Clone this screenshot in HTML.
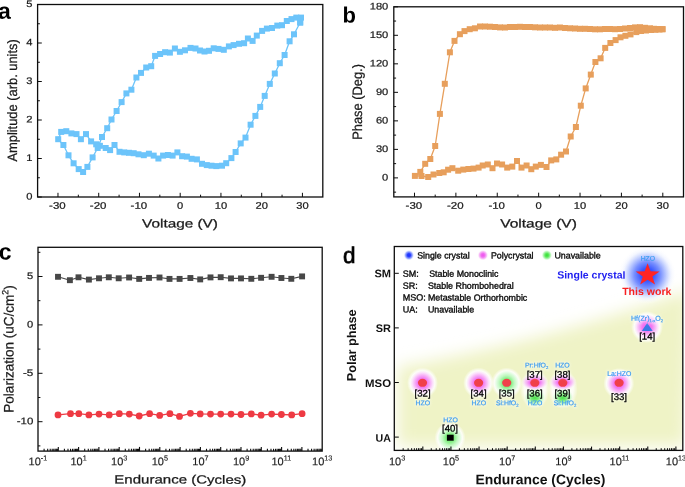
<!DOCTYPE html><html><head><meta charset="utf-8"><style>html,body{margin:0;padding:0;background:#fff;width:685px;height:487px;overflow:hidden}svg{display:block;filter:blur(0.45px)}text{font-family:"Liberation Sans", sans-serif}</style></head><body>
<svg width="685" height="487" viewBox="0 0 685 487">
<defs>
<radialGradient id="gBlue"><stop offset="0" stop-color="#1a2cff"/><stop offset="0.3" stop-color="#2a40ff"/><stop offset="0.65" stop-color="#8fa2ff" stop-opacity="0.85"/><stop offset="1" stop-color="#ffffff" stop-opacity="0"/></radialGradient>
<radialGradient id="gMag"><stop offset="0" stop-color="#f060f0"/><stop offset="0.3" stop-color="#f27af2"/><stop offset="0.5" stop-color="#f7b2f7"/><stop offset="0.66" stop-color="#fce0fc"/><stop offset="0.8" stop-color="#ffffff" stop-opacity="0.85"/><stop offset="1" stop-color="#ffffff" stop-opacity="0"/></radialGradient>
<radialGradient id="gGrn"><stop offset="0" stop-color="#62e862"/><stop offset="0.3" stop-color="#88f088"/><stop offset="0.5" stop-color="#c2f8c2"/><stop offset="0.66" stop-color="#e0fce0"/><stop offset="0.8" stop-color="#ffffff" stop-opacity="0.85"/><stop offset="1" stop-color="#ffffff" stop-opacity="0"/></radialGradient>
<radialGradient id="gMagL"><stop offset="0" stop-color="#ee50ee"/><stop offset="0.35" stop-color="#f070f0"/><stop offset="0.7" stop-color="#f8bff8" stop-opacity="0.9"/><stop offset="1" stop-color="#ffffff" stop-opacity="0"/></radialGradient>
<radialGradient id="gGrnL"><stop offset="0" stop-color="#30e030"/><stop offset="0.35" stop-color="#5ce85c"/><stop offset="0.7" stop-color="#b8f6b8" stop-opacity="0.9"/><stop offset="1" stop-color="#ffffff" stop-opacity="0"/></radialGradient>
<radialGradient id="gStar"><stop offset="0" stop-color="#2440ff"/><stop offset="0.22" stop-color="#3a58ff"/><stop offset="0.45" stop-color="#7890ff"/><stop offset="0.65" stop-color="#bccaff" stop-opacity="0.95"/><stop offset="0.82" stop-color="#eef2ff" stop-opacity="0.75"/><stop offset="1" stop-color="#ffffff" stop-opacity="0"/></radialGradient>
<radialGradient id="gWht"><stop offset="0" stop-color="#ffffff" stop-opacity="0.95"/><stop offset="0.7" stop-color="#ffffff" stop-opacity="0.8"/><stop offset="1" stop-color="#ffffff" stop-opacity="0"/></radialGradient>
<radialGradient id="gGrnS"><stop offset="0" stop-color="#30dc30"/><stop offset="0.35" stop-color="#55e655"/><stop offset="0.7" stop-color="#b0f5b0" stop-opacity="0.8"/><stop offset="1" stop-color="#ffffff" stop-opacity="0"/></radialGradient>
<radialGradient id="gMagS"><stop offset="0" stop-color="#ee50ee"/><stop offset="0.4" stop-color="#f278f2"/><stop offset="0.7" stop-color="#f8c0f8" stop-opacity="0.8"/><stop offset="1" stop-color="#ffffff" stop-opacity="0"/></radialGradient>
<filter id="blurY" x="-20%" y="-30%" width="140%" height="160%"><feGaussianBlur stdDeviation="8"/></filter>
<filter id="halo" x="-30%" y="-50%" width="160%" height="200%"><feGaussianBlur stdDeviation="1"/></filter>
<clipPath id="clipD"><rect x="394.3" y="246.5" width="288.7" height="204.1"/></clipPath>
</defs>
<g>
<polyline fill="none" stroke="#6cc4fa" stroke-width="1.3" stroke-linejoin="round" points="300.2,22.5 294,34.3 289.6,41.3 284.6,55 279.8,63.2 274.8,73.5 269.8,83.9 264.7,95.9 260.2,106.9 255.4,115.9 250.6,124.7 245.5,137.6 240.7,143.4 235.6,152 231.4,158.1 226.2,163.2 222,165.7 216.3,166.1 211.5,165.7 206.8,165.1 202,163.8 196.9,159.4 191.6,158.8 186.9,156.6 182.1,156.2 177.4,152.4 172.6,155.6 167.9,155 163.1,155.6 158.4,158.5 153.7,155.6 148.9,153.7 143.8,155.2 138.5,154.3 133.7,153.2 129,152.8 124.2,152.4 119.5,151.8 114.5,145 110.1,150.1 105.7,148 99.9,145.8 96.2,144.3 91.1,141.4 86,134.1 80.9,139.2 76.5,134.1 71.4,133.4 66.3,131.2 61.2,131.9 58.2,139.2 63.4,145 68.5,155.3 73.6,163.3 78.7,169.1 83.1,172 87.4,166.9 92.6,157.4 97.7,148 102,137 107.2,128.2 111.5,119.5 116.6,111 121.6,102.1 126.4,93.4 131.4,89.7 136.4,77.5 141,72.9 146.2,67.5 151.2,66.2 155.1,55.9 160.1,54 165.1,52.2 169.9,52.6 174.9,48.5 179.9,51.8 185,50.3 190.5,47.9 195.5,48.5 200,50.5 204.5,51.5 209,50.8 213.7,48.3 218.5,48.9 223.8,49.8 228.9,46.4 233.6,45.1 239,43.8 244.1,43.2 247.9,38.5 252.6,40.9 256.8,35.6 262.1,30.9 266.9,28.6 272,28 277.3,25.6 282,25.2 286.8,21 291.5,19.1 296.3,17.6 301,17.6 300.2,22.5"/>
<rect x="297.2" y="19.5" width="6" height="6" fill="#6cc4fa"/>
<rect x="291" y="31.3" width="6" height="6" fill="#6cc4fa"/>
<rect x="286.6" y="38.3" width="6" height="6" fill="#6cc4fa"/>
<rect x="281.6" y="52" width="6" height="6" fill="#6cc4fa"/>
<rect x="276.8" y="60.2" width="6" height="6" fill="#6cc4fa"/>
<rect x="271.8" y="70.5" width="6" height="6" fill="#6cc4fa"/>
<rect x="266.8" y="80.9" width="6" height="6" fill="#6cc4fa"/>
<rect x="261.7" y="92.9" width="6" height="6" fill="#6cc4fa"/>
<rect x="257.2" y="103.9" width="6" height="6" fill="#6cc4fa"/>
<rect x="252.4" y="112.9" width="6" height="6" fill="#6cc4fa"/>
<rect x="247.6" y="121.7" width="6" height="6" fill="#6cc4fa"/>
<rect x="242.5" y="134.6" width="6" height="6" fill="#6cc4fa"/>
<rect x="237.7" y="140.4" width="6" height="6" fill="#6cc4fa"/>
<rect x="232.6" y="149" width="6" height="6" fill="#6cc4fa"/>
<rect x="228.4" y="155.1" width="6" height="6" fill="#6cc4fa"/>
<rect x="223.2" y="160.2" width="6" height="6" fill="#6cc4fa"/>
<rect x="219" y="162.7" width="6" height="6" fill="#6cc4fa"/>
<rect x="213.3" y="163.1" width="6" height="6" fill="#6cc4fa"/>
<rect x="208.5" y="162.7" width="6" height="6" fill="#6cc4fa"/>
<rect x="203.8" y="162.1" width="6" height="6" fill="#6cc4fa"/>
<rect x="199" y="160.8" width="6" height="6" fill="#6cc4fa"/>
<rect x="193.9" y="156.4" width="6" height="6" fill="#6cc4fa"/>
<rect x="188.6" y="155.8" width="6" height="6" fill="#6cc4fa"/>
<rect x="183.9" y="153.6" width="6" height="6" fill="#6cc4fa"/>
<rect x="179.1" y="153.2" width="6" height="6" fill="#6cc4fa"/>
<rect x="174.4" y="149.4" width="6" height="6" fill="#6cc4fa"/>
<rect x="169.6" y="152.6" width="6" height="6" fill="#6cc4fa"/>
<rect x="164.9" y="152" width="6" height="6" fill="#6cc4fa"/>
<rect x="160.1" y="152.6" width="6" height="6" fill="#6cc4fa"/>
<rect x="155.4" y="155.5" width="6" height="6" fill="#6cc4fa"/>
<rect x="150.7" y="152.6" width="6" height="6" fill="#6cc4fa"/>
<rect x="145.9" y="150.7" width="6" height="6" fill="#6cc4fa"/>
<rect x="140.8" y="152.2" width="6" height="6" fill="#6cc4fa"/>
<rect x="135.5" y="151.3" width="6" height="6" fill="#6cc4fa"/>
<rect x="130.7" y="150.2" width="6" height="6" fill="#6cc4fa"/>
<rect x="126" y="149.8" width="6" height="6" fill="#6cc4fa"/>
<rect x="121.2" y="149.4" width="6" height="6" fill="#6cc4fa"/>
<rect x="116.5" y="148.8" width="6" height="6" fill="#6cc4fa"/>
<rect x="111.5" y="142" width="6" height="6" fill="#6cc4fa"/>
<rect x="107.1" y="147.1" width="6" height="6" fill="#6cc4fa"/>
<rect x="102.7" y="145" width="6" height="6" fill="#6cc4fa"/>
<rect x="96.9" y="142.8" width="6" height="6" fill="#6cc4fa"/>
<rect x="93.2" y="141.3" width="6" height="6" fill="#6cc4fa"/>
<rect x="88.1" y="138.4" width="6" height="6" fill="#6cc4fa"/>
<rect x="83" y="131.1" width="6" height="6" fill="#6cc4fa"/>
<rect x="77.9" y="136.2" width="6" height="6" fill="#6cc4fa"/>
<rect x="73.5" y="131.1" width="6" height="6" fill="#6cc4fa"/>
<rect x="68.4" y="130.4" width="6" height="6" fill="#6cc4fa"/>
<rect x="63.3" y="128.2" width="6" height="6" fill="#6cc4fa"/>
<rect x="58.2" y="128.9" width="6" height="6" fill="#6cc4fa"/>
<rect x="55.2" y="136.2" width="6" height="6" fill="#6cc4fa"/>
<rect x="60.4" y="142" width="6" height="6" fill="#6cc4fa"/>
<rect x="65.5" y="152.3" width="6" height="6" fill="#6cc4fa"/>
<rect x="70.6" y="160.3" width="6" height="6" fill="#6cc4fa"/>
<rect x="75.7" y="166.1" width="6" height="6" fill="#6cc4fa"/>
<rect x="80.1" y="169" width="6" height="6" fill="#6cc4fa"/>
<rect x="84.4" y="163.9" width="6" height="6" fill="#6cc4fa"/>
<rect x="89.6" y="154.4" width="6" height="6" fill="#6cc4fa"/>
<rect x="94.7" y="145" width="6" height="6" fill="#6cc4fa"/>
<rect x="99" y="134" width="6" height="6" fill="#6cc4fa"/>
<rect x="104.2" y="125.2" width="6" height="6" fill="#6cc4fa"/>
<rect x="108.5" y="116.5" width="6" height="6" fill="#6cc4fa"/>
<rect x="113.6" y="108" width="6" height="6" fill="#6cc4fa"/>
<rect x="118.6" y="99.1" width="6" height="6" fill="#6cc4fa"/>
<rect x="123.4" y="90.4" width="6" height="6" fill="#6cc4fa"/>
<rect x="128.4" y="86.7" width="6" height="6" fill="#6cc4fa"/>
<rect x="133.4" y="74.5" width="6" height="6" fill="#6cc4fa"/>
<rect x="138" y="69.9" width="6" height="6" fill="#6cc4fa"/>
<rect x="143.2" y="64.5" width="6" height="6" fill="#6cc4fa"/>
<rect x="148.2" y="63.2" width="6" height="6" fill="#6cc4fa"/>
<rect x="152.1" y="52.9" width="6" height="6" fill="#6cc4fa"/>
<rect x="157.1" y="51" width="6" height="6" fill="#6cc4fa"/>
<rect x="162.1" y="49.2" width="6" height="6" fill="#6cc4fa"/>
<rect x="166.9" y="49.6" width="6" height="6" fill="#6cc4fa"/>
<rect x="171.9" y="45.5" width="6" height="6" fill="#6cc4fa"/>
<rect x="176.9" y="48.8" width="6" height="6" fill="#6cc4fa"/>
<rect x="182" y="47.3" width="6" height="6" fill="#6cc4fa"/>
<rect x="187.5" y="44.9" width="6" height="6" fill="#6cc4fa"/>
<rect x="192.5" y="45.5" width="6" height="6" fill="#6cc4fa"/>
<rect x="197" y="47.5" width="6" height="6" fill="#6cc4fa"/>
<rect x="201.5" y="48.5" width="6" height="6" fill="#6cc4fa"/>
<rect x="206" y="47.8" width="6" height="6" fill="#6cc4fa"/>
<rect x="210.7" y="45.3" width="6" height="6" fill="#6cc4fa"/>
<rect x="215.5" y="45.9" width="6" height="6" fill="#6cc4fa"/>
<rect x="220.8" y="46.8" width="6" height="6" fill="#6cc4fa"/>
<rect x="225.9" y="43.4" width="6" height="6" fill="#6cc4fa"/>
<rect x="230.6" y="42.1" width="6" height="6" fill="#6cc4fa"/>
<rect x="236" y="40.8" width="6" height="6" fill="#6cc4fa"/>
<rect x="241.1" y="40.2" width="6" height="6" fill="#6cc4fa"/>
<rect x="244.9" y="35.5" width="6" height="6" fill="#6cc4fa"/>
<rect x="249.6" y="37.9" width="6" height="6" fill="#6cc4fa"/>
<rect x="253.8" y="32.6" width="6" height="6" fill="#6cc4fa"/>
<rect x="259.1" y="27.9" width="6" height="6" fill="#6cc4fa"/>
<rect x="263.9" y="25.6" width="6" height="6" fill="#6cc4fa"/>
<rect x="269" y="25" width="6" height="6" fill="#6cc4fa"/>
<rect x="274.3" y="22.6" width="6" height="6" fill="#6cc4fa"/>
<rect x="279" y="22.2" width="6" height="6" fill="#6cc4fa"/>
<rect x="283.8" y="18" width="6" height="6" fill="#6cc4fa"/>
<rect x="288.5" y="16.1" width="6" height="6" fill="#6cc4fa"/>
<rect x="293.3" y="14.6" width="6" height="6" fill="#6cc4fa"/>
<rect x="298" y="14.6" width="6" height="6" fill="#6cc4fa"/>
<rect x="297.2" y="19.5" width="6" height="6" fill="#6cc4fa"/>
<rect x="37.6" y="4.5" width="285.2" height="192.5" fill="none" stroke="#0d0d0d" stroke-width="1.3"/>
<line x1="57.97" y1="197" x2="57.97" y2="192.8" stroke="#0d0d0d" stroke-width="1"/>
<text transform="translate(57.37,208.8) rotate(0.05) scale(1.2090,1)" font-size="9.5" text-anchor="middle" font-weight="normal" fill="#1a1a1a"  stroke="#1a1a1a" stroke-width="0.22">-30</text>
<line x1="98.71" y1="197" x2="98.71" y2="192.8" stroke="#0d0d0d" stroke-width="1"/>
<text transform="translate(98.11,208.8) rotate(0.05) scale(1.2090,1)" font-size="9.5" text-anchor="middle" font-weight="normal" fill="#1a1a1a"  stroke="#1a1a1a" stroke-width="0.22">-20</text>
<line x1="139.46" y1="197" x2="139.46" y2="192.8" stroke="#0d0d0d" stroke-width="1"/>
<text transform="translate(138.86,208.8) rotate(0.05) scale(1.2090,1)" font-size="9.5" text-anchor="middle" font-weight="normal" fill="#1a1a1a"  stroke="#1a1a1a" stroke-width="0.22">-10</text>
<line x1="180.2" y1="197" x2="180.2" y2="192.8" stroke="#0d0d0d" stroke-width="1"/>
<text transform="translate(180.2,208.8) rotate(0.05) scale(1.1735,1)" font-size="9.5" text-anchor="middle" font-weight="normal" fill="#1a1a1a"  stroke="#1a1a1a" stroke-width="0.22">0</text>
<line x1="220.94" y1="197" x2="220.94" y2="192.8" stroke="#0d0d0d" stroke-width="1"/>
<text transform="translate(220.94,208.8) rotate(0.05) scale(1.1735,1)" font-size="9.5" text-anchor="middle" font-weight="normal" fill="#1a1a1a"  stroke="#1a1a1a" stroke-width="0.22">10</text>
<line x1="261.69" y1="197" x2="261.69" y2="192.8" stroke="#0d0d0d" stroke-width="1"/>
<text transform="translate(261.69,208.8) rotate(0.05) scale(1.1735,1)" font-size="9.5" text-anchor="middle" font-weight="normal" fill="#1a1a1a"  stroke="#1a1a1a" stroke-width="0.22">20</text>
<line x1="302.43" y1="197" x2="302.43" y2="192.8" stroke="#0d0d0d" stroke-width="1"/>
<text transform="translate(302.43,208.8) rotate(0.05) scale(1.1735,1)" font-size="9.5" text-anchor="middle" font-weight="normal" fill="#1a1a1a"  stroke="#1a1a1a" stroke-width="0.22">30</text>
<line x1="78.34" y1="197" x2="78.34" y2="194.7" stroke="#0d0d0d" stroke-width="1"/>
<line x1="119.09" y1="197" x2="119.09" y2="194.7" stroke="#0d0d0d" stroke-width="1"/>
<line x1="159.83" y1="197" x2="159.83" y2="194.7" stroke="#0d0d0d" stroke-width="1"/>
<line x1="200.57" y1="197" x2="200.57" y2="194.7" stroke="#0d0d0d" stroke-width="1"/>
<line x1="241.31" y1="197" x2="241.31" y2="194.7" stroke="#0d0d0d" stroke-width="1"/>
<line x1="282.06" y1="197" x2="282.06" y2="194.7" stroke="#0d0d0d" stroke-width="1"/>
<line x1="37.6" y1="197" x2="41.8" y2="197" stroke="#0d0d0d" stroke-width="1"/>
<text transform="translate(32.4,199.6) rotate(0.05) scale(1.1735,1)" font-size="9.5" text-anchor="end" font-weight="normal" fill="#1a1a1a"  stroke="#1a1a1a" stroke-width="0.22">0</text>
<line x1="37.6" y1="158.5" x2="41.8" y2="158.5" stroke="#0d0d0d" stroke-width="1"/>
<text transform="translate(32.4,161.1) rotate(0.05) scale(1.1735,1)" font-size="9.5" text-anchor="end" font-weight="normal" fill="#1a1a1a"  stroke="#1a1a1a" stroke-width="0.22">1</text>
<line x1="37.6" y1="120" x2="41.8" y2="120" stroke="#0d0d0d" stroke-width="1"/>
<text transform="translate(32.4,122.6) rotate(0.05) scale(1.1735,1)" font-size="9.5" text-anchor="end" font-weight="normal" fill="#1a1a1a"  stroke="#1a1a1a" stroke-width="0.22">2</text>
<line x1="37.6" y1="81.5" x2="41.8" y2="81.5" stroke="#0d0d0d" stroke-width="1"/>
<text transform="translate(32.4,84.1) rotate(0.05) scale(1.1735,1)" font-size="9.5" text-anchor="end" font-weight="normal" fill="#1a1a1a"  stroke="#1a1a1a" stroke-width="0.22">3</text>
<line x1="37.6" y1="43" x2="41.8" y2="43" stroke="#0d0d0d" stroke-width="1"/>
<text transform="translate(32.4,45.6) rotate(0.05) scale(1.1735,1)" font-size="9.5" text-anchor="end" font-weight="normal" fill="#1a1a1a"  stroke="#1a1a1a" stroke-width="0.22">4</text>
<line x1="37.6" y1="4.5" x2="41.8" y2="4.5" stroke="#0d0d0d" stroke-width="1"/>
<text transform="translate(32.4,7.1) rotate(0.05) scale(1.1735,1)" font-size="9.5" text-anchor="end" font-weight="normal" fill="#1a1a1a"  stroke="#1a1a1a" stroke-width="0.22">5</text>
<line x1="37.6" y1="177.75" x2="39.9" y2="177.75" stroke="#0d0d0d" stroke-width="1"/>
<line x1="37.6" y1="139.25" x2="39.9" y2="139.25" stroke="#0d0d0d" stroke-width="1"/>
<line x1="37.6" y1="100.75" x2="39.9" y2="100.75" stroke="#0d0d0d" stroke-width="1"/>
<line x1="37.6" y1="62.25" x2="39.9" y2="62.25" stroke="#0d0d0d" stroke-width="1"/>
<line x1="37.6" y1="23.75" x2="39.9" y2="23.75" stroke="#0d0d0d" stroke-width="1"/>
<text transform="translate(180,227.6) rotate(0.05) scale(1.2802,1)" font-size="12" text-anchor="middle" font-weight="normal" fill="#1a1a1a"  stroke="#1a1a1a" stroke-width="0.25">Voltage (V)</text>
<text transform="translate(17,100.4) rotate(-89.95) scale(0.9477,1)" font-size="13.6" text-anchor="middle" font-weight="normal" fill="#1a1a1a"  stroke="#1a1a1a" stroke-width="0.25">Amplitude (arb. units)</text>
<text transform="translate(-1.9,18.8) rotate(0.05)" font-size="23" text-anchor="start" font-weight="bold" fill="#000" >a</text>
</g>
<g>
<polyline fill="none" stroke="#e79f5c" stroke-width="1.3" stroke-linejoin="round" points="662.5,29.2 658,29 654,28.8 650,28.3 645,27.8 640,27.2 635,27.4 630,28 625,28.5 620,29 615,29.2 610,29 605,29 600,29.3 595,29.3 590,29 585,28.8 580,28.8 575,28.5 570,28.3 565,28 560,27.5 555,27.8 550,27.5 545,27.5 540,27.5 535,27.3 530,27 525,27 520,26.8 515,27 510,27 505,27.5 500,27.4 495,27 490,26.7 485,26.5 480,26.5 474.9,28.3 469.7,29.2 464.5,31.1 459.9,34.2 454.5,40.9 449.9,52.3 444.8,83.8 439.9,113.9 435.2,146 430.3,159 425.2,163.8 420.3,171.9 414.9,175.9 421.5,176 428.2,177 433.5,174.5 439.3,173 443.7,172.3 448.1,169.7 452.4,168.2 458.2,170.7 463.3,169.6 468.4,169 473.5,168.6 478.6,167.6 482.7,165.5 487.8,164.5 492.5,168.2 497,163.5 502.1,164.5 507.2,167.6 512.3,166.6 517,161 521.5,167.6 526.6,165.5 531.3,169.2 535.8,166.6 540.9,164.9 546.5,167 551.2,160.4 556.3,159.4 561.1,154.7 566,151.5 570.7,136.5 575.9,127 580.8,105.7 585.7,88.4 590.8,74.6 595.4,62 600.6,58.3 605.2,47.9 610.4,43 615.6,40.1 620.5,37.3 625.4,35.8 630.5,34.4 636.3,32.1 641,31 646,30.5 651,30 655.5,29.8 659.5,29.5 662.5,29.2"/>
<rect x="659.5" y="26.2" width="6" height="6" fill="#e79f5c"/>
<rect x="655" y="26" width="6" height="6" fill="#e79f5c"/>
<rect x="651" y="25.8" width="6" height="6" fill="#e79f5c"/>
<rect x="647" y="25.3" width="6" height="6" fill="#e79f5c"/>
<rect x="642" y="24.8" width="6" height="6" fill="#e79f5c"/>
<rect x="637" y="24.2" width="6" height="6" fill="#e79f5c"/>
<rect x="632" y="24.4" width="6" height="6" fill="#e79f5c"/>
<rect x="627" y="25" width="6" height="6" fill="#e79f5c"/>
<rect x="622" y="25.5" width="6" height="6" fill="#e79f5c"/>
<rect x="617" y="26" width="6" height="6" fill="#e79f5c"/>
<rect x="612" y="26.2" width="6" height="6" fill="#e79f5c"/>
<rect x="607" y="26" width="6" height="6" fill="#e79f5c"/>
<rect x="602" y="26" width="6" height="6" fill="#e79f5c"/>
<rect x="597" y="26.3" width="6" height="6" fill="#e79f5c"/>
<rect x="592" y="26.3" width="6" height="6" fill="#e79f5c"/>
<rect x="587" y="26" width="6" height="6" fill="#e79f5c"/>
<rect x="582" y="25.8" width="6" height="6" fill="#e79f5c"/>
<rect x="577" y="25.8" width="6" height="6" fill="#e79f5c"/>
<rect x="572" y="25.5" width="6" height="6" fill="#e79f5c"/>
<rect x="567" y="25.3" width="6" height="6" fill="#e79f5c"/>
<rect x="562" y="25" width="6" height="6" fill="#e79f5c"/>
<rect x="557" y="24.5" width="6" height="6" fill="#e79f5c"/>
<rect x="552" y="24.8" width="6" height="6" fill="#e79f5c"/>
<rect x="547" y="24.5" width="6" height="6" fill="#e79f5c"/>
<rect x="542" y="24.5" width="6" height="6" fill="#e79f5c"/>
<rect x="537" y="24.5" width="6" height="6" fill="#e79f5c"/>
<rect x="532" y="24.3" width="6" height="6" fill="#e79f5c"/>
<rect x="527" y="24" width="6" height="6" fill="#e79f5c"/>
<rect x="522" y="24" width="6" height="6" fill="#e79f5c"/>
<rect x="517" y="23.8" width="6" height="6" fill="#e79f5c"/>
<rect x="512" y="24" width="6" height="6" fill="#e79f5c"/>
<rect x="507" y="24" width="6" height="6" fill="#e79f5c"/>
<rect x="502" y="24.5" width="6" height="6" fill="#e79f5c"/>
<rect x="497" y="24.4" width="6" height="6" fill="#e79f5c"/>
<rect x="492" y="24" width="6" height="6" fill="#e79f5c"/>
<rect x="487" y="23.7" width="6" height="6" fill="#e79f5c"/>
<rect x="482" y="23.5" width="6" height="6" fill="#e79f5c"/>
<rect x="477" y="23.5" width="6" height="6" fill="#e79f5c"/>
<rect x="471.9" y="25.3" width="6" height="6" fill="#e79f5c"/>
<rect x="466.7" y="26.2" width="6" height="6" fill="#e79f5c"/>
<rect x="461.5" y="28.1" width="6" height="6" fill="#e79f5c"/>
<rect x="456.9" y="31.2" width="6" height="6" fill="#e79f5c"/>
<rect x="451.5" y="37.9" width="6" height="6" fill="#e79f5c"/>
<rect x="446.9" y="49.3" width="6" height="6" fill="#e79f5c"/>
<rect x="441.8" y="80.8" width="6" height="6" fill="#e79f5c"/>
<rect x="436.9" y="110.9" width="6" height="6" fill="#e79f5c"/>
<rect x="432.2" y="143" width="6" height="6" fill="#e79f5c"/>
<rect x="427.3" y="156" width="6" height="6" fill="#e79f5c"/>
<rect x="422.2" y="160.8" width="6" height="6" fill="#e79f5c"/>
<rect x="417.3" y="168.9" width="6" height="6" fill="#e79f5c"/>
<rect x="411.9" y="172.9" width="6" height="6" fill="#e79f5c"/>
<rect x="418.5" y="173" width="6" height="6" fill="#e79f5c"/>
<rect x="425.2" y="174" width="6" height="6" fill="#e79f5c"/>
<rect x="430.5" y="171.5" width="6" height="6" fill="#e79f5c"/>
<rect x="436.3" y="170" width="6" height="6" fill="#e79f5c"/>
<rect x="440.7" y="169.3" width="6" height="6" fill="#e79f5c"/>
<rect x="445.1" y="166.7" width="6" height="6" fill="#e79f5c"/>
<rect x="449.4" y="165.2" width="6" height="6" fill="#e79f5c"/>
<rect x="455.2" y="167.7" width="6" height="6" fill="#e79f5c"/>
<rect x="460.3" y="166.6" width="6" height="6" fill="#e79f5c"/>
<rect x="465.4" y="166" width="6" height="6" fill="#e79f5c"/>
<rect x="470.5" y="165.6" width="6" height="6" fill="#e79f5c"/>
<rect x="475.6" y="164.6" width="6" height="6" fill="#e79f5c"/>
<rect x="479.7" y="162.5" width="6" height="6" fill="#e79f5c"/>
<rect x="484.8" y="161.5" width="6" height="6" fill="#e79f5c"/>
<rect x="489.5" y="165.2" width="6" height="6" fill="#e79f5c"/>
<rect x="494" y="160.5" width="6" height="6" fill="#e79f5c"/>
<rect x="499.1" y="161.5" width="6" height="6" fill="#e79f5c"/>
<rect x="504.2" y="164.6" width="6" height="6" fill="#e79f5c"/>
<rect x="509.3" y="163.6" width="6" height="6" fill="#e79f5c"/>
<rect x="514" y="158" width="6" height="6" fill="#e79f5c"/>
<rect x="518.5" y="164.6" width="6" height="6" fill="#e79f5c"/>
<rect x="523.6" y="162.5" width="6" height="6" fill="#e79f5c"/>
<rect x="528.3" y="166.2" width="6" height="6" fill="#e79f5c"/>
<rect x="532.8" y="163.6" width="6" height="6" fill="#e79f5c"/>
<rect x="537.9" y="161.9" width="6" height="6" fill="#e79f5c"/>
<rect x="543.5" y="164" width="6" height="6" fill="#e79f5c"/>
<rect x="548.2" y="157.4" width="6" height="6" fill="#e79f5c"/>
<rect x="553.3" y="156.4" width="6" height="6" fill="#e79f5c"/>
<rect x="558.1" y="151.7" width="6" height="6" fill="#e79f5c"/>
<rect x="563" y="148.5" width="6" height="6" fill="#e79f5c"/>
<rect x="567.7" y="133.5" width="6" height="6" fill="#e79f5c"/>
<rect x="572.9" y="124" width="6" height="6" fill="#e79f5c"/>
<rect x="577.8" y="102.7" width="6" height="6" fill="#e79f5c"/>
<rect x="582.7" y="85.4" width="6" height="6" fill="#e79f5c"/>
<rect x="587.8" y="71.6" width="6" height="6" fill="#e79f5c"/>
<rect x="592.4" y="59" width="6" height="6" fill="#e79f5c"/>
<rect x="597.6" y="55.3" width="6" height="6" fill="#e79f5c"/>
<rect x="602.2" y="44.9" width="6" height="6" fill="#e79f5c"/>
<rect x="607.4" y="40" width="6" height="6" fill="#e79f5c"/>
<rect x="612.6" y="37.1" width="6" height="6" fill="#e79f5c"/>
<rect x="617.5" y="34.3" width="6" height="6" fill="#e79f5c"/>
<rect x="622.4" y="32.8" width="6" height="6" fill="#e79f5c"/>
<rect x="627.5" y="31.4" width="6" height="6" fill="#e79f5c"/>
<rect x="633.3" y="29.1" width="6" height="6" fill="#e79f5c"/>
<rect x="638" y="28" width="6" height="6" fill="#e79f5c"/>
<rect x="643" y="27.5" width="6" height="6" fill="#e79f5c"/>
<rect x="648" y="27" width="6" height="6" fill="#e79f5c"/>
<rect x="652.5" y="26.8" width="6" height="6" fill="#e79f5c"/>
<rect x="656.5" y="26.5" width="6" height="6" fill="#e79f5c"/>
<rect x="659.5" y="26.2" width="6" height="6" fill="#e79f5c"/>
<rect x="393.8" y="6.8" width="289.7" height="190.1" fill="none" stroke="#0d0d0d" stroke-width="1.3"/>
<line x1="414.49" y1="196.9" x2="414.49" y2="192.7" stroke="#0d0d0d" stroke-width="1"/>
<text transform="translate(413.89,208.8) rotate(0.05) scale(1.2090,1)" font-size="9.5" text-anchor="middle" font-weight="normal" fill="#1a1a1a"  stroke="#1a1a1a" stroke-width="0.22">-30</text>
<line x1="455.88" y1="196.9" x2="455.88" y2="192.7" stroke="#0d0d0d" stroke-width="1"/>
<text transform="translate(455.28,208.8) rotate(0.05) scale(1.2090,1)" font-size="9.5" text-anchor="middle" font-weight="normal" fill="#1a1a1a"  stroke="#1a1a1a" stroke-width="0.22">-20</text>
<line x1="497.26" y1="196.9" x2="497.26" y2="192.7" stroke="#0d0d0d" stroke-width="1"/>
<text transform="translate(496.66,208.8) rotate(0.05) scale(1.2090,1)" font-size="9.5" text-anchor="middle" font-weight="normal" fill="#1a1a1a"  stroke="#1a1a1a" stroke-width="0.22">-10</text>
<line x1="538.65" y1="196.9" x2="538.65" y2="192.7" stroke="#0d0d0d" stroke-width="1"/>
<text transform="translate(538.65,208.8) rotate(0.05) scale(1.1735,1)" font-size="9.5" text-anchor="middle" font-weight="normal" fill="#1a1a1a"  stroke="#1a1a1a" stroke-width="0.22">0</text>
<line x1="580.04" y1="196.9" x2="580.04" y2="192.7" stroke="#0d0d0d" stroke-width="1"/>
<text transform="translate(580.04,208.8) rotate(0.05) scale(1.1735,1)" font-size="9.5" text-anchor="middle" font-weight="normal" fill="#1a1a1a"  stroke="#1a1a1a" stroke-width="0.22">10</text>
<line x1="621.42" y1="196.9" x2="621.42" y2="192.7" stroke="#0d0d0d" stroke-width="1"/>
<text transform="translate(621.42,208.8) rotate(0.05) scale(1.1735,1)" font-size="9.5" text-anchor="middle" font-weight="normal" fill="#1a1a1a"  stroke="#1a1a1a" stroke-width="0.22">20</text>
<line x1="662.81" y1="196.9" x2="662.81" y2="192.7" stroke="#0d0d0d" stroke-width="1"/>
<text transform="translate(662.81,208.8) rotate(0.05) scale(1.1735,1)" font-size="9.5" text-anchor="middle" font-weight="normal" fill="#1a1a1a"  stroke="#1a1a1a" stroke-width="0.22">30</text>
<line x1="435.19" y1="196.9" x2="435.19" y2="194.6" stroke="#0d0d0d" stroke-width="1"/>
<line x1="476.57" y1="196.9" x2="476.57" y2="194.6" stroke="#0d0d0d" stroke-width="1"/>
<line x1="517.96" y1="196.9" x2="517.96" y2="194.6" stroke="#0d0d0d" stroke-width="1"/>
<line x1="559.34" y1="196.9" x2="559.34" y2="194.6" stroke="#0d0d0d" stroke-width="1"/>
<line x1="600.73" y1="196.9" x2="600.73" y2="194.6" stroke="#0d0d0d" stroke-width="1"/>
<line x1="642.11" y1="196.9" x2="642.11" y2="194.6" stroke="#0d0d0d" stroke-width="1"/>
<line x1="393.8" y1="177.89" x2="398" y2="177.89" stroke="#0d0d0d" stroke-width="1"/>
<text transform="translate(388.3,180.49) rotate(0.05) scale(1.1735,1)" font-size="9.5" text-anchor="end" font-weight="normal" fill="#1a1a1a"  stroke="#1a1a1a" stroke-width="0.22">0</text>
<line x1="393.8" y1="149.38" x2="398" y2="149.38" stroke="#0d0d0d" stroke-width="1"/>
<text transform="translate(388.3,151.97) rotate(0.05) scale(1.1735,1)" font-size="9.5" text-anchor="end" font-weight="normal" fill="#1a1a1a"  stroke="#1a1a1a" stroke-width="0.22">30</text>
<line x1="393.8" y1="120.86" x2="398" y2="120.86" stroke="#0d0d0d" stroke-width="1"/>
<text transform="translate(388.3,123.46) rotate(0.05) scale(1.1735,1)" font-size="9.5" text-anchor="end" font-weight="normal" fill="#1a1a1a"  stroke="#1a1a1a" stroke-width="0.22">60</text>
<line x1="393.8" y1="92.34" x2="398" y2="92.34" stroke="#0d0d0d" stroke-width="1"/>
<text transform="translate(388.3,94.94) rotate(0.05) scale(1.1735,1)" font-size="9.5" text-anchor="end" font-weight="normal" fill="#1a1a1a"  stroke="#1a1a1a" stroke-width="0.22">90</text>
<line x1="393.8" y1="63.83" x2="398" y2="63.83" stroke="#0d0d0d" stroke-width="1"/>
<text transform="translate(388.3,66.43) rotate(0.05) scale(1.1735,1)" font-size="9.5" text-anchor="end" font-weight="normal" fill="#1a1a1a"  stroke="#1a1a1a" stroke-width="0.22">120</text>
<line x1="393.8" y1="35.31" x2="398" y2="35.31" stroke="#0d0d0d" stroke-width="1"/>
<text transform="translate(388.3,37.91) rotate(0.05) scale(1.1735,1)" font-size="9.5" text-anchor="end" font-weight="normal" fill="#1a1a1a"  stroke="#1a1a1a" stroke-width="0.22">150</text>
<line x1="393.8" y1="6.8" x2="398" y2="6.8" stroke="#0d0d0d" stroke-width="1"/>
<text transform="translate(388.3,9.4) rotate(0.05) scale(1.1735,1)" font-size="9.5" text-anchor="end" font-weight="normal" fill="#1a1a1a"  stroke="#1a1a1a" stroke-width="0.22">180</text>
<line x1="393.8" y1="192.15" x2="396.1" y2="192.15" stroke="#0d0d0d" stroke-width="1"/>
<line x1="393.8" y1="163.63" x2="396.1" y2="163.63" stroke="#0d0d0d" stroke-width="1"/>
<line x1="393.8" y1="135.12" x2="396.1" y2="135.12" stroke="#0d0d0d" stroke-width="1"/>
<line x1="393.8" y1="106.6" x2="396.1" y2="106.6" stroke="#0d0d0d" stroke-width="1"/>
<line x1="393.8" y1="78.09" x2="396.1" y2="78.09" stroke="#0d0d0d" stroke-width="1"/>
<line x1="393.8" y1="49.57" x2="396.1" y2="49.57" stroke="#0d0d0d" stroke-width="1"/>
<line x1="393.8" y1="21.06" x2="396.1" y2="21.06" stroke="#0d0d0d" stroke-width="1"/>
<text transform="translate(538.5,227.6) rotate(0.05) scale(1.2936,1)" font-size="12" text-anchor="middle" font-weight="normal" fill="#1a1a1a"  stroke="#1a1a1a" stroke-width="0.25">Voltage (V)</text>
<text transform="translate(362,101.9) rotate(-89.95) scale(0.9460,1)" font-size="13.6" text-anchor="middle" font-weight="normal" fill="#1a1a1a"  stroke="#1a1a1a" stroke-width="0.25">Phase (Deg.)</text>
<text transform="translate(342.6,22.6) rotate(0.05)" font-size="22" text-anchor="start" font-weight="bold" fill="#000" >b</text>
</g>
<g>
<polyline fill="none" stroke="#474747" stroke-width="1.1" stroke-linejoin="round" points="58,276.8 69.9,280.2 78.5,277.3 88.9,279.6 99,278.3 108.8,277.3 118.7,278.3 129.1,277.5 139.2,278.9 149,277.9 159.5,277.5 169.5,278.9 179.6,278.9 190.4,278 200.2,279.4 210.5,277.4 220.7,277.2 231,278.4 241,278.4 251.3,278.8 261.1,277.8 271.6,276.8 281.4,278 291.3,278.8 302.1,276.4"/>
<rect x="55.05" y="273.85" width="5.9" height="5.9" fill="#474747"/>
<rect x="66.95" y="277.25" width="5.9" height="5.9" fill="#474747"/>
<rect x="75.55" y="274.35" width="5.9" height="5.9" fill="#474747"/>
<rect x="85.95" y="276.65" width="5.9" height="5.9" fill="#474747"/>
<rect x="96.05" y="275.35" width="5.9" height="5.9" fill="#474747"/>
<rect x="105.85" y="274.35" width="5.9" height="5.9" fill="#474747"/>
<rect x="115.75" y="275.35" width="5.9" height="5.9" fill="#474747"/>
<rect x="126.15" y="274.55" width="5.9" height="5.9" fill="#474747"/>
<rect x="136.25" y="275.95" width="5.9" height="5.9" fill="#474747"/>
<rect x="146.05" y="274.95" width="5.9" height="5.9" fill="#474747"/>
<rect x="156.55" y="274.55" width="5.9" height="5.9" fill="#474747"/>
<rect x="166.55" y="275.95" width="5.9" height="5.9" fill="#474747"/>
<rect x="176.65" y="275.95" width="5.9" height="5.9" fill="#474747"/>
<rect x="187.45" y="275.05" width="5.9" height="5.9" fill="#474747"/>
<rect x="197.25" y="276.45" width="5.9" height="5.9" fill="#474747"/>
<rect x="207.55" y="274.45" width="5.9" height="5.9" fill="#474747"/>
<rect x="217.75" y="274.25" width="5.9" height="5.9" fill="#474747"/>
<rect x="228.05" y="275.45" width="5.9" height="5.9" fill="#474747"/>
<rect x="238.05" y="275.45" width="5.9" height="5.9" fill="#474747"/>
<rect x="248.35" y="275.85" width="5.9" height="5.9" fill="#474747"/>
<rect x="258.15" y="274.85" width="5.9" height="5.9" fill="#474747"/>
<rect x="268.65" y="273.85" width="5.9" height="5.9" fill="#474747"/>
<rect x="278.45" y="275.05" width="5.9" height="5.9" fill="#474747"/>
<rect x="288.35" y="275.85" width="5.9" height="5.9" fill="#474747"/>
<rect x="299.15" y="273.45" width="5.9" height="5.9" fill="#474747"/>
<polyline fill="none" stroke="#ee3a43" stroke-width="1.3" stroke-linejoin="round" points="58,414.9 70.5,413.7 78.8,413.7 88.9,414.9 99,414.1 109.2,414.9 119.3,413.7 129.3,414.1 139.2,416 149.6,413.7 159.7,415.4 169.9,413.7 179.5,416.4 190.4,413.3 200.2,413.9 210.5,414.1 220.7,414.1 231,414.1 241,414.5 251.3,413.9 261.1,415.2 271.6,414.1 281.4,414.5 291.7,414.9 302.1,413.7"/>
<circle cx="58" cy="414.9" r="3.4" fill="#ee3a43"/>
<circle cx="70.5" cy="413.7" r="3.4" fill="#ee3a43"/>
<circle cx="78.8" cy="413.7" r="3.4" fill="#ee3a43"/>
<circle cx="88.9" cy="414.9" r="3.4" fill="#ee3a43"/>
<circle cx="99" cy="414.1" r="3.4" fill="#ee3a43"/>
<circle cx="109.2" cy="414.9" r="3.4" fill="#ee3a43"/>
<circle cx="119.3" cy="413.7" r="3.4" fill="#ee3a43"/>
<circle cx="129.3" cy="414.1" r="3.4" fill="#ee3a43"/>
<circle cx="139.2" cy="416" r="3.4" fill="#ee3a43"/>
<circle cx="149.6" cy="413.7" r="3.4" fill="#ee3a43"/>
<circle cx="159.7" cy="415.4" r="3.4" fill="#ee3a43"/>
<circle cx="169.9" cy="413.7" r="3.4" fill="#ee3a43"/>
<circle cx="179.5" cy="416.4" r="3.4" fill="#ee3a43"/>
<circle cx="190.4" cy="413.3" r="3.4" fill="#ee3a43"/>
<circle cx="200.2" cy="413.9" r="3.4" fill="#ee3a43"/>
<circle cx="210.5" cy="414.1" r="3.4" fill="#ee3a43"/>
<circle cx="220.7" cy="414.1" r="3.4" fill="#ee3a43"/>
<circle cx="231" cy="414.1" r="3.4" fill="#ee3a43"/>
<circle cx="241" cy="414.5" r="3.4" fill="#ee3a43"/>
<circle cx="251.3" cy="413.9" r="3.4" fill="#ee3a43"/>
<circle cx="261.1" cy="415.2" r="3.4" fill="#ee3a43"/>
<circle cx="271.6" cy="414.1" r="3.4" fill="#ee3a43"/>
<circle cx="281.4" cy="414.5" r="3.4" fill="#ee3a43"/>
<circle cx="291.7" cy="414.9" r="3.4" fill="#ee3a43"/>
<circle cx="302.1" cy="413.7" r="3.4" fill="#ee3a43"/>
<rect x="38" y="247.3" width="284.2" height="203.8" fill="none" stroke="#0d0d0d" stroke-width="1.3"/>
<line x1="38" y1="276.5" x2="42.5" y2="276.5" stroke="#0d0d0d" stroke-width="1"/>
<text transform="translate(33.3,279.1) rotate(0.05) scale(1.1735,1)" font-size="9.5" text-anchor="end" font-weight="normal" fill="#1a1a1a"  stroke="#1a1a1a" stroke-width="0.22">5</text>
<line x1="38" y1="324.9" x2="42.5" y2="324.9" stroke="#0d0d0d" stroke-width="1"/>
<text transform="translate(33.3,327.5) rotate(0.05) scale(1.1735,1)" font-size="9.5" text-anchor="end" font-weight="normal" fill="#1a1a1a"  stroke="#1a1a1a" stroke-width="0.22">0</text>
<line x1="38" y1="373.3" x2="42.5" y2="373.3" stroke="#0d0d0d" stroke-width="1"/>
<text transform="translate(33.3,375.9) rotate(0.05) scale(1.2312,1)" font-size="9.5" text-anchor="end" font-weight="normal" fill="#1a1a1a"  stroke="#1a1a1a" stroke-width="0.22">-5</text>
<line x1="38" y1="421.7" x2="42.5" y2="421.7" stroke="#0d0d0d" stroke-width="1"/>
<text transform="translate(33.3,424.3) rotate(0.05) scale(1.2090,1)" font-size="9.5" text-anchor="end" font-weight="normal" fill="#1a1a1a"  stroke="#1a1a1a" stroke-width="0.22">-10</text>
<line x1="38" y1="252.3" x2="40.4" y2="252.3" stroke="#0d0d0d" stroke-width="1"/>
<line x1="38" y1="300.7" x2="40.4" y2="300.7" stroke="#0d0d0d" stroke-width="1"/>
<line x1="38" y1="349.1" x2="40.4" y2="349.1" stroke="#0d0d0d" stroke-width="1"/>
<line x1="38" y1="397.5" x2="40.4" y2="397.5" stroke="#0d0d0d" stroke-width="1"/>
<line x1="38" y1="445.9" x2="40.4" y2="445.9" stroke="#0d0d0d" stroke-width="1"/>
<line x1="44.11" y1="451.1" x2="44.11" y2="448.8" stroke="#0d0d0d" stroke-width="1.1"/>
<line x1="47.69" y1="451.1" x2="47.69" y2="448.8" stroke="#0d0d0d" stroke-width="1.1"/>
<line x1="50.22" y1="451.1" x2="50.22" y2="448.8" stroke="#0d0d0d" stroke-width="1.1"/>
<line x1="52.19" y1="451.1" x2="52.19" y2="448.8" stroke="#0d0d0d" stroke-width="1.1"/>
<line x1="53.8" y1="451.1" x2="53.8" y2="448.8" stroke="#0d0d0d" stroke-width="1.1"/>
<line x1="55.16" y1="451.1" x2="55.16" y2="448.8" stroke="#0d0d0d" stroke-width="1.1"/>
<line x1="56.33" y1="451.1" x2="56.33" y2="448.8" stroke="#0d0d0d" stroke-width="1.1"/>
<line x1="57.37" y1="451.1" x2="57.37" y2="448.8" stroke="#0d0d0d" stroke-width="1.1"/>
<line x1="58.3" y1="451.1" x2="58.3" y2="446.9" stroke="#0d0d0d" stroke-width="1.1"/>
<line x1="64.41" y1="451.1" x2="64.41" y2="448.8" stroke="#0d0d0d" stroke-width="1.1"/>
<line x1="67.99" y1="451.1" x2="67.99" y2="448.8" stroke="#0d0d0d" stroke-width="1.1"/>
<line x1="70.52" y1="451.1" x2="70.52" y2="448.8" stroke="#0d0d0d" stroke-width="1.1"/>
<line x1="72.49" y1="451.1" x2="72.49" y2="448.8" stroke="#0d0d0d" stroke-width="1.1"/>
<line x1="74.1" y1="451.1" x2="74.1" y2="448.8" stroke="#0d0d0d" stroke-width="1.1"/>
<line x1="75.46" y1="451.1" x2="75.46" y2="448.8" stroke="#0d0d0d" stroke-width="1.1"/>
<line x1="76.63" y1="451.1" x2="76.63" y2="448.8" stroke="#0d0d0d" stroke-width="1.1"/>
<line x1="77.67" y1="451.1" x2="77.67" y2="448.8" stroke="#0d0d0d" stroke-width="1.1"/>
<line x1="78.6" y1="451.1" x2="78.6" y2="446.9" stroke="#0d0d0d" stroke-width="1.1"/>
<line x1="84.71" y1="451.1" x2="84.71" y2="448.8" stroke="#0d0d0d" stroke-width="1.1"/>
<line x1="88.29" y1="451.1" x2="88.29" y2="448.8" stroke="#0d0d0d" stroke-width="1.1"/>
<line x1="90.82" y1="451.1" x2="90.82" y2="448.8" stroke="#0d0d0d" stroke-width="1.1"/>
<line x1="92.79" y1="451.1" x2="92.79" y2="448.8" stroke="#0d0d0d" stroke-width="1.1"/>
<line x1="94.4" y1="451.1" x2="94.4" y2="448.8" stroke="#0d0d0d" stroke-width="1.1"/>
<line x1="95.76" y1="451.1" x2="95.76" y2="448.8" stroke="#0d0d0d" stroke-width="1.1"/>
<line x1="96.93" y1="451.1" x2="96.93" y2="448.8" stroke="#0d0d0d" stroke-width="1.1"/>
<line x1="97.97" y1="451.1" x2="97.97" y2="448.8" stroke="#0d0d0d" stroke-width="1.1"/>
<line x1="98.9" y1="451.1" x2="98.9" y2="446.9" stroke="#0d0d0d" stroke-width="1.1"/>
<line x1="105.01" y1="451.1" x2="105.01" y2="448.8" stroke="#0d0d0d" stroke-width="1.1"/>
<line x1="108.59" y1="451.1" x2="108.59" y2="448.8" stroke="#0d0d0d" stroke-width="1.1"/>
<line x1="111.12" y1="451.1" x2="111.12" y2="448.8" stroke="#0d0d0d" stroke-width="1.1"/>
<line x1="113.09" y1="451.1" x2="113.09" y2="448.8" stroke="#0d0d0d" stroke-width="1.1"/>
<line x1="114.7" y1="451.1" x2="114.7" y2="448.8" stroke="#0d0d0d" stroke-width="1.1"/>
<line x1="116.06" y1="451.1" x2="116.06" y2="448.8" stroke="#0d0d0d" stroke-width="1.1"/>
<line x1="117.23" y1="451.1" x2="117.23" y2="448.8" stroke="#0d0d0d" stroke-width="1.1"/>
<line x1="118.27" y1="451.1" x2="118.27" y2="448.8" stroke="#0d0d0d" stroke-width="1.1"/>
<line x1="119.2" y1="451.1" x2="119.2" y2="446.9" stroke="#0d0d0d" stroke-width="1.1"/>
<line x1="125.31" y1="451.1" x2="125.31" y2="448.8" stroke="#0d0d0d" stroke-width="1.1"/>
<line x1="128.89" y1="451.1" x2="128.89" y2="448.8" stroke="#0d0d0d" stroke-width="1.1"/>
<line x1="131.42" y1="451.1" x2="131.42" y2="448.8" stroke="#0d0d0d" stroke-width="1.1"/>
<line x1="133.39" y1="451.1" x2="133.39" y2="448.8" stroke="#0d0d0d" stroke-width="1.1"/>
<line x1="135" y1="451.1" x2="135" y2="448.8" stroke="#0d0d0d" stroke-width="1.1"/>
<line x1="136.36" y1="451.1" x2="136.36" y2="448.8" stroke="#0d0d0d" stroke-width="1.1"/>
<line x1="137.53" y1="451.1" x2="137.53" y2="448.8" stroke="#0d0d0d" stroke-width="1.1"/>
<line x1="138.57" y1="451.1" x2="138.57" y2="448.8" stroke="#0d0d0d" stroke-width="1.1"/>
<line x1="139.5" y1="451.1" x2="139.5" y2="446.9" stroke="#0d0d0d" stroke-width="1.1"/>
<line x1="145.61" y1="451.1" x2="145.61" y2="448.8" stroke="#0d0d0d" stroke-width="1.1"/>
<line x1="149.19" y1="451.1" x2="149.19" y2="448.8" stroke="#0d0d0d" stroke-width="1.1"/>
<line x1="151.72" y1="451.1" x2="151.72" y2="448.8" stroke="#0d0d0d" stroke-width="1.1"/>
<line x1="153.69" y1="451.1" x2="153.69" y2="448.8" stroke="#0d0d0d" stroke-width="1.1"/>
<line x1="155.3" y1="451.1" x2="155.3" y2="448.8" stroke="#0d0d0d" stroke-width="1.1"/>
<line x1="156.66" y1="451.1" x2="156.66" y2="448.8" stroke="#0d0d0d" stroke-width="1.1"/>
<line x1="157.83" y1="451.1" x2="157.83" y2="448.8" stroke="#0d0d0d" stroke-width="1.1"/>
<line x1="158.87" y1="451.1" x2="158.87" y2="448.8" stroke="#0d0d0d" stroke-width="1.1"/>
<line x1="159.8" y1="451.1" x2="159.8" y2="446.9" stroke="#0d0d0d" stroke-width="1.1"/>
<line x1="165.91" y1="451.1" x2="165.91" y2="448.8" stroke="#0d0d0d" stroke-width="1.1"/>
<line x1="169.49" y1="451.1" x2="169.49" y2="448.8" stroke="#0d0d0d" stroke-width="1.1"/>
<line x1="172.02" y1="451.1" x2="172.02" y2="448.8" stroke="#0d0d0d" stroke-width="1.1"/>
<line x1="173.99" y1="451.1" x2="173.99" y2="448.8" stroke="#0d0d0d" stroke-width="1.1"/>
<line x1="175.6" y1="451.1" x2="175.6" y2="448.8" stroke="#0d0d0d" stroke-width="1.1"/>
<line x1="176.96" y1="451.1" x2="176.96" y2="448.8" stroke="#0d0d0d" stroke-width="1.1"/>
<line x1="178.13" y1="451.1" x2="178.13" y2="448.8" stroke="#0d0d0d" stroke-width="1.1"/>
<line x1="179.17" y1="451.1" x2="179.17" y2="448.8" stroke="#0d0d0d" stroke-width="1.1"/>
<line x1="180.1" y1="451.1" x2="180.1" y2="446.9" stroke="#0d0d0d" stroke-width="1.1"/>
<line x1="186.21" y1="451.1" x2="186.21" y2="448.8" stroke="#0d0d0d" stroke-width="1.1"/>
<line x1="189.79" y1="451.1" x2="189.79" y2="448.8" stroke="#0d0d0d" stroke-width="1.1"/>
<line x1="192.32" y1="451.1" x2="192.32" y2="448.8" stroke="#0d0d0d" stroke-width="1.1"/>
<line x1="194.29" y1="451.1" x2="194.29" y2="448.8" stroke="#0d0d0d" stroke-width="1.1"/>
<line x1="195.9" y1="451.1" x2="195.9" y2="448.8" stroke="#0d0d0d" stroke-width="1.1"/>
<line x1="197.26" y1="451.1" x2="197.26" y2="448.8" stroke="#0d0d0d" stroke-width="1.1"/>
<line x1="198.43" y1="451.1" x2="198.43" y2="448.8" stroke="#0d0d0d" stroke-width="1.1"/>
<line x1="199.47" y1="451.1" x2="199.47" y2="448.8" stroke="#0d0d0d" stroke-width="1.1"/>
<line x1="200.4" y1="451.1" x2="200.4" y2="446.9" stroke="#0d0d0d" stroke-width="1.1"/>
<line x1="206.51" y1="451.1" x2="206.51" y2="448.8" stroke="#0d0d0d" stroke-width="1.1"/>
<line x1="210.09" y1="451.1" x2="210.09" y2="448.8" stroke="#0d0d0d" stroke-width="1.1"/>
<line x1="212.62" y1="451.1" x2="212.62" y2="448.8" stroke="#0d0d0d" stroke-width="1.1"/>
<line x1="214.59" y1="451.1" x2="214.59" y2="448.8" stroke="#0d0d0d" stroke-width="1.1"/>
<line x1="216.2" y1="451.1" x2="216.2" y2="448.8" stroke="#0d0d0d" stroke-width="1.1"/>
<line x1="217.56" y1="451.1" x2="217.56" y2="448.8" stroke="#0d0d0d" stroke-width="1.1"/>
<line x1="218.73" y1="451.1" x2="218.73" y2="448.8" stroke="#0d0d0d" stroke-width="1.1"/>
<line x1="219.77" y1="451.1" x2="219.77" y2="448.8" stroke="#0d0d0d" stroke-width="1.1"/>
<line x1="220.7" y1="451.1" x2="220.7" y2="446.9" stroke="#0d0d0d" stroke-width="1.1"/>
<line x1="226.81" y1="451.1" x2="226.81" y2="448.8" stroke="#0d0d0d" stroke-width="1.1"/>
<line x1="230.39" y1="451.1" x2="230.39" y2="448.8" stroke="#0d0d0d" stroke-width="1.1"/>
<line x1="232.92" y1="451.1" x2="232.92" y2="448.8" stroke="#0d0d0d" stroke-width="1.1"/>
<line x1="234.89" y1="451.1" x2="234.89" y2="448.8" stroke="#0d0d0d" stroke-width="1.1"/>
<line x1="236.5" y1="451.1" x2="236.5" y2="448.8" stroke="#0d0d0d" stroke-width="1.1"/>
<line x1="237.86" y1="451.1" x2="237.86" y2="448.8" stroke="#0d0d0d" stroke-width="1.1"/>
<line x1="239.03" y1="451.1" x2="239.03" y2="448.8" stroke="#0d0d0d" stroke-width="1.1"/>
<line x1="240.07" y1="451.1" x2="240.07" y2="448.8" stroke="#0d0d0d" stroke-width="1.1"/>
<line x1="241" y1="451.1" x2="241" y2="446.9" stroke="#0d0d0d" stroke-width="1.1"/>
<line x1="247.11" y1="451.1" x2="247.11" y2="448.8" stroke="#0d0d0d" stroke-width="1.1"/>
<line x1="250.69" y1="451.1" x2="250.69" y2="448.8" stroke="#0d0d0d" stroke-width="1.1"/>
<line x1="253.22" y1="451.1" x2="253.22" y2="448.8" stroke="#0d0d0d" stroke-width="1.1"/>
<line x1="255.19" y1="451.1" x2="255.19" y2="448.8" stroke="#0d0d0d" stroke-width="1.1"/>
<line x1="256.8" y1="451.1" x2="256.8" y2="448.8" stroke="#0d0d0d" stroke-width="1.1"/>
<line x1="258.16" y1="451.1" x2="258.16" y2="448.8" stroke="#0d0d0d" stroke-width="1.1"/>
<line x1="259.33" y1="451.1" x2="259.33" y2="448.8" stroke="#0d0d0d" stroke-width="1.1"/>
<line x1="260.37" y1="451.1" x2="260.37" y2="448.8" stroke="#0d0d0d" stroke-width="1.1"/>
<line x1="261.3" y1="451.1" x2="261.3" y2="446.9" stroke="#0d0d0d" stroke-width="1.1"/>
<line x1="267.41" y1="451.1" x2="267.41" y2="448.8" stroke="#0d0d0d" stroke-width="1.1"/>
<line x1="270.99" y1="451.1" x2="270.99" y2="448.8" stroke="#0d0d0d" stroke-width="1.1"/>
<line x1="273.52" y1="451.1" x2="273.52" y2="448.8" stroke="#0d0d0d" stroke-width="1.1"/>
<line x1="275.49" y1="451.1" x2="275.49" y2="448.8" stroke="#0d0d0d" stroke-width="1.1"/>
<line x1="277.1" y1="451.1" x2="277.1" y2="448.8" stroke="#0d0d0d" stroke-width="1.1"/>
<line x1="278.46" y1="451.1" x2="278.46" y2="448.8" stroke="#0d0d0d" stroke-width="1.1"/>
<line x1="279.63" y1="451.1" x2="279.63" y2="448.8" stroke="#0d0d0d" stroke-width="1.1"/>
<line x1="280.67" y1="451.1" x2="280.67" y2="448.8" stroke="#0d0d0d" stroke-width="1.1"/>
<line x1="281.6" y1="451.1" x2="281.6" y2="446.9" stroke="#0d0d0d" stroke-width="1.1"/>
<line x1="287.71" y1="451.1" x2="287.71" y2="448.8" stroke="#0d0d0d" stroke-width="1.1"/>
<line x1="291.29" y1="451.1" x2="291.29" y2="448.8" stroke="#0d0d0d" stroke-width="1.1"/>
<line x1="293.82" y1="451.1" x2="293.82" y2="448.8" stroke="#0d0d0d" stroke-width="1.1"/>
<line x1="295.79" y1="451.1" x2="295.79" y2="448.8" stroke="#0d0d0d" stroke-width="1.1"/>
<line x1="297.4" y1="451.1" x2="297.4" y2="448.8" stroke="#0d0d0d" stroke-width="1.1"/>
<line x1="298.76" y1="451.1" x2="298.76" y2="448.8" stroke="#0d0d0d" stroke-width="1.1"/>
<line x1="299.93" y1="451.1" x2="299.93" y2="448.8" stroke="#0d0d0d" stroke-width="1.1"/>
<line x1="300.97" y1="451.1" x2="300.97" y2="448.8" stroke="#0d0d0d" stroke-width="1.1"/>
<line x1="301.9" y1="451.1" x2="301.9" y2="446.9" stroke="#0d0d0d" stroke-width="1.1"/>
<line x1="308.01" y1="451.1" x2="308.01" y2="448.8" stroke="#0d0d0d" stroke-width="1.1"/>
<line x1="311.59" y1="451.1" x2="311.59" y2="448.8" stroke="#0d0d0d" stroke-width="1.1"/>
<line x1="314.12" y1="451.1" x2="314.12" y2="448.8" stroke="#0d0d0d" stroke-width="1.1"/>
<line x1="316.09" y1="451.1" x2="316.09" y2="448.8" stroke="#0d0d0d" stroke-width="1.1"/>
<line x1="317.7" y1="451.1" x2="317.7" y2="448.8" stroke="#0d0d0d" stroke-width="1.1"/>
<line x1="319.06" y1="451.1" x2="319.06" y2="448.8" stroke="#0d0d0d" stroke-width="1.1"/>
<line x1="320.23" y1="451.1" x2="320.23" y2="448.8" stroke="#0d0d0d" stroke-width="1.1"/>
<line x1="321.27" y1="451.1" x2="321.27" y2="448.8" stroke="#0d0d0d" stroke-width="1.1"/>
<text transform="translate(28.6,465.2) rotate(0.05)" font-size="11" fill="#1a1a1a" stroke="#1a1a1a" stroke-width="0.15">10<tspan font-size="7.2" dy="-4.6">-1</tspan></text>
<text transform="translate(70.5,465.2) rotate(0.05)" font-size="11" fill="#1a1a1a" stroke="#1a1a1a" stroke-width="0.15">10<tspan font-size="7.2" dy="-4.6">1</tspan></text>
<text transform="translate(111.1,465.2) rotate(0.05)" font-size="11" fill="#1a1a1a" stroke="#1a1a1a" stroke-width="0.15">10<tspan font-size="7.2" dy="-4.6">3</tspan></text>
<text transform="translate(151.7,465.2) rotate(0.05)" font-size="11" fill="#1a1a1a" stroke="#1a1a1a" stroke-width="0.15">10<tspan font-size="7.2" dy="-4.6">5</tspan></text>
<text transform="translate(192.3,465.2) rotate(0.05)" font-size="11" fill="#1a1a1a" stroke="#1a1a1a" stroke-width="0.15">10<tspan font-size="7.2" dy="-4.6">7</tspan></text>
<text transform="translate(232.9,465.2) rotate(0.05)" font-size="11" fill="#1a1a1a" stroke="#1a1a1a" stroke-width="0.15">10<tspan font-size="7.2" dy="-4.6">9</tspan></text>
<text transform="translate(271.5,465.2) rotate(0.05)" font-size="11" fill="#1a1a1a" stroke="#1a1a1a" stroke-width="0.15">10<tspan font-size="7.2" dy="-4.6">11</tspan></text>
<text transform="translate(312.1,465.2) rotate(0.05)" font-size="11" fill="#1a1a1a" stroke="#1a1a1a" stroke-width="0.15">10<tspan font-size="7.2" dy="-4.6">13</tspan></text>
<text transform="translate(180.3,483.6) rotate(0.05) scale(1.2527,1)" font-size="12" text-anchor="middle" font-weight="normal" fill="#1a1a1a"  stroke="#1a1a1a" stroke-width="0.25">Endurance (Cycles)</text>
<text transform="translate(13.6,349) rotate(-89.95) scale(0.9798,1)" font-size="13.8" text-anchor="middle" font-weight="normal" fill="#1a1a1a"  stroke="#1a1a1a" stroke-width="0.25">Polarization (uC/cm<tspan font-size="9" dy="-5.5">2</tspan><tspan dy="5.5">)</tspan></text>
<text transform="translate(-1.2,259.6) rotate(0.05)" font-size="23" text-anchor="start" font-weight="bold" fill="#000" >c</text>
</g>
<g>
<g clip-path="url(#clipD)"><path d="M 398 367 Q 540 343 690 290 L 686 446 L 398 446 Z" fill="#eff3c6" filter="url(#blurY)"/></g>
<text transform="translate(391,277.3) rotate(0.05) scale(1.0061,1)" font-size="11" text-anchor="end" font-weight="bold" fill="#111" >SM</text>
<text transform="translate(391,331.9) rotate(0.05) scale(0.9947,1)" font-size="11" text-anchor="end" font-weight="bold" fill="#111" >SR</text>
<text transform="translate(391,386.9) rotate(0.05) scale(1.0377,1)" font-size="11" text-anchor="end" font-weight="bold" fill="#111" >MSO</text>
<text transform="translate(391,441.8) rotate(0.05) scale(0.9693,1)" font-size="11" text-anchor="end" font-weight="bold" fill="#111" >UA</text>
<text transform="translate(388.9,465.2) rotate(0.05)" font-size="11" fill="#1a1a1a" stroke="#1a1a1a" stroke-width="0.15">10<tspan font-size="7.2" dy="-4.6">3</tspan></text>
<text transform="translate(442.84,465.2) rotate(0.05)" font-size="11" fill="#1a1a1a" stroke="#1a1a1a" stroke-width="0.15">10<tspan font-size="7.2" dy="-4.6">5</tspan></text>
<text transform="translate(499.08,465.2) rotate(0.05)" font-size="11" fill="#1a1a1a" stroke="#1a1a1a" stroke-width="0.15">10<tspan font-size="7.2" dy="-4.6">7</tspan></text>
<text transform="translate(555.32,465.2) rotate(0.05)" font-size="11" fill="#1a1a1a" stroke="#1a1a1a" stroke-width="0.15">10<tspan font-size="7.2" dy="-4.6">9</tspan></text>
<text transform="translate(609.56,465.2) rotate(0.05)" font-size="11" fill="#1a1a1a" stroke="#1a1a1a" stroke-width="0.15">10<tspan font-size="7.2" dy="-4.6">11</tspan></text>
<text transform="translate(665.8,465.2) rotate(0.05)" font-size="11" fill="#1a1a1a" stroke="#1a1a1a" stroke-width="0.15">10<tspan font-size="7.2" dy="-4.6">13</tspan></text>
<text transform="translate(540.5,484.2) rotate(0.05) scale(0.9946,1)" font-size="14" text-anchor="middle" font-weight="bold" fill="#111" >Endurance (Cycles)</text>
<text transform="translate(355.9,345.3) rotate(-89.95) scale(1.0080,1)" font-size="12.6" text-anchor="middle" font-weight="bold" fill="#111" >Polar phase</text>
<text transform="translate(343.0,263.1) rotate(0.05)" font-size="22.5" fill="#000" stroke="#000" stroke-width="0.7">d</text>
<circle cx="408.9" cy="255.2" r="5.5" fill="url(#gBlue)"/>
<circle cx="482.9" cy="255.2" r="5.5" fill="url(#gMagL)"/>
<circle cx="546.9" cy="255.2" r="5.5" fill="url(#gGrnL)"/>
<text transform="translate(417.2,258.4) rotate(0.05) scale(0.9828,1)" font-size="9" text-anchor="start" font-weight="normal" fill="#1a1a1a" stroke="#000" stroke-width="0.35">Single crystal</text>
<text transform="translate(490.9,258.4) rotate(0.05) scale(0.9814,1)" font-size="9" text-anchor="start" font-weight="normal" fill="#1a1a1a" stroke="#000" stroke-width="0.35">Polycrystal</text>
<text transform="translate(554.4,258.4) rotate(0.05) scale(0.9866,1)" font-size="9" text-anchor="start" font-weight="normal" fill="#1a1a1a" stroke="#000" stroke-width="0.35">Unavailable</text>
<text transform="translate(402.8,276.8) rotate(0.05)" font-size="9" text-anchor="start" font-weight="normal" fill="#1a1a1a" stroke="#000" stroke-width="0.35">SM:</text>
<text transform="translate(429.2,276.8) rotate(0.05) scale(0.9839,1)" font-size="9" text-anchor="start" font-weight="normal" fill="#1a1a1a" stroke="#000" stroke-width="0.35">Stable Monoclinic</text>
<text transform="translate(402.8,288.7) rotate(0.05)" font-size="9" text-anchor="start" font-weight="normal" fill="#1a1a1a" stroke="#000" stroke-width="0.35">SR:</text>
<text transform="translate(427.9,288.7) rotate(0.05) scale(0.9879,1)" font-size="9" text-anchor="start" font-weight="normal" fill="#1a1a1a" stroke="#000" stroke-width="0.35">Stable Rhombohedral</text>
<text transform="translate(402.8,300.6) rotate(0.05)" font-size="9" text-anchor="start" font-weight="normal" fill="#1a1a1a" stroke="#000" stroke-width="0.35">MSO:</text>
<text transform="translate(427.9,300.6) rotate(0.05) scale(0.9847,1)" font-size="9" text-anchor="start" font-weight="normal" fill="#1a1a1a" stroke="#000" stroke-width="0.35">Metastable Orthorhombic</text>
<text transform="translate(402.8,312.5) rotate(0.05)" font-size="9" text-anchor="start" font-weight="normal" fill="#1a1a1a" stroke="#000" stroke-width="0.35">UA:</text>
<text transform="translate(427.9,312.5) rotate(0.05) scale(0.9866,1)" font-size="9" text-anchor="start" font-weight="normal" fill="#1a1a1a" stroke="#000" stroke-width="0.35">Unavailable</text>
<circle cx="647.3" cy="274.8" r="29" fill="url(#gStar)"/>
<polygon fill="#ff2424" points="647.6,263.28 650.56,271.21 659.58,271.38 652.39,276.45 655.01,284.48 647.6,279.69 640.19,284.48 642.81,276.45 635.62,271.38 644.64,271.21"/>
<text transform="translate(647.8,260.7) rotate(0.05)" font-size="6.8" text-anchor="middle" fill="#3d9cf2" stroke="#3d9cf2" stroke-width="0.2">HZO</text>
<text transform="translate(591.3,278.6) rotate(0.05)" font-size="10.5" text-anchor="middle" font-weight="bold" fill="#2020f0" >Single crystal</text>
<text transform="translate(646.8,295) rotate(0.05) scale(1.0059,1)" font-size="10.5" text-anchor="middle" font-weight="bold" fill="#f82020" >This work</text>
<circle cx="647.0" cy="327.0" r="16" fill="url(#gMag)"/>
<polygon fill="#3c78e6" points="647.2,323.0 652.7,331.0 641.7,331.0"/>
<text transform="translate(631,320.7) rotate(0.05)" font-size="7.1" text-anchor="start" fill="#fff" stroke="#fff" stroke-width="2.0" opacity="0.35" filter="url(#halo)">Hf(Zr)<tspan font-size="4.2" dy="1.6">1-x</tspan><tspan dy="-1.6">O</tspan><tspan font-size="4.2" dy="1.6">2</tspan></text>
<text transform="translate(631,320.7) rotate(0.05)" font-size="7.1" text-anchor="start" fill="#3d9cf2" stroke="#3d9cf2" stroke-width="0.2">Hf(Zr)<tspan font-size="4.2" dy="1.6">1-x</tspan><tspan dy="-1.6">O</tspan><tspan font-size="4.2" dy="1.6">2</tspan></text>
<text transform="translate(647.2,339.6) rotate(0.05)" font-size="9.6" text-anchor="middle" fill="#fff" stroke="#fff" stroke-width="2.0" opacity="0.35" filter="url(#halo)">[14]</text>
<text transform="translate(647.2,339.6) rotate(0.05)" font-size="9.6" text-anchor="middle" fill="#000" stroke="#000" stroke-width="0.3">[14]</text>
<circle cx="422.5" cy="383" r="15.5" fill="url(#gMag)"/>
<ellipse cx="422.5" cy="382.8" rx="4.6" ry="4.0" fill="#f0404a"/>
<circle cx="478.6" cy="383" r="15.5" fill="url(#gMag)"/>
<ellipse cx="478.6" cy="382.8" rx="4.6" ry="4.0" fill="#f0404a"/>
<circle cx="506.7" cy="383" r="15.5" fill="url(#gGrn)"/>
<ellipse cx="506.7" cy="382.8" rx="4.6" ry="4.0" fill="#f0404a"/>
<ellipse cx="534.8" cy="389" rx="15" ry="20" fill="url(#gWht)"/>
<ellipse cx="534.8" cy="397.5" rx="11" ry="10" fill="url(#gGrnS)"/>
<ellipse cx="534.8" cy="382" rx="14" ry="9" fill="url(#gMagS)"/>
<ellipse cx="534.8" cy="382.8" rx="4.6" ry="4.0" fill="#f0404a"/>
<ellipse cx="562.8" cy="389" rx="15" ry="20" fill="url(#gWht)"/>
<ellipse cx="562.8" cy="397.5" rx="11" ry="10" fill="url(#gGrnS)"/>
<ellipse cx="562.8" cy="382" rx="14" ry="9" fill="url(#gMagS)"/>
<ellipse cx="562.8" cy="382.8" rx="4.6" ry="4.0" fill="#f0404a"/>
<circle cx="618.8" cy="383.5" r="15.5" fill="url(#gMag)"/>
<ellipse cx="619.1" cy="382.8" rx="4.6" ry="4.0" fill="#f0404a"/>
<circle cx="450" cy="437.7" r="15.5" fill="url(#gGrn)"/>
<rect x="446.9" y="434.7" width="6.8" height="6.0" fill="#000"/>
<text transform="translate(422.6,396.6) rotate(0.05)" font-size="9.6" text-anchor="middle" fill="#fff" stroke="#fff" stroke-width="2.0" opacity="0.35" filter="url(#halo)">[32]</text>
<text transform="translate(422.6,396.6) rotate(0.05)" font-size="9.6" text-anchor="middle" fill="#000" stroke="#000" stroke-width="0.3">[32]</text>
<text transform="translate(422.8,405.3) rotate(0.05)" font-size="6.9" text-anchor="middle" fill="#fff" stroke="#fff" stroke-width="2.0" opacity="0.35" filter="url(#halo)">HZO</text>
<text transform="translate(422.8,405.3) rotate(0.05)" font-size="6.9" text-anchor="middle" fill="#3d9cf2" stroke="#3d9cf2" stroke-width="0.2">HZO</text>
<text transform="translate(478.6,396.6) rotate(0.05)" font-size="9.6" text-anchor="middle" fill="#fff" stroke="#fff" stroke-width="2.0" opacity="0.35" filter="url(#halo)">[34]</text>
<text transform="translate(478.6,396.6) rotate(0.05)" font-size="9.6" text-anchor="middle" fill="#000" stroke="#000" stroke-width="0.3">[34]</text>
<text transform="translate(478.8,405.3) rotate(0.05)" font-size="6.9" text-anchor="middle" fill="#fff" stroke="#fff" stroke-width="2.0" opacity="0.35" filter="url(#halo)">HZO</text>
<text transform="translate(478.8,405.3) rotate(0.05)" font-size="6.9" text-anchor="middle" fill="#3d9cf2" stroke="#3d9cf2" stroke-width="0.2">HZO</text>
<text transform="translate(506.7,396.6) rotate(0.05)" font-size="9.6" text-anchor="middle" fill="#fff" stroke="#fff" stroke-width="2.0" opacity="0.35" filter="url(#halo)">[35]</text>
<text transform="translate(506.7,396.6) rotate(0.05)" font-size="9.6" text-anchor="middle" fill="#000" stroke="#000" stroke-width="0.3">[35]</text>
<text transform="translate(507.2,405.3) rotate(0.05)" font-size="6.9" text-anchor="middle" fill="#fff" stroke="#fff" stroke-width="2.0" opacity="0.35" filter="url(#halo)">Si:HfO<tspan font-size="4.2" dy="1.5">2</tspan></text>
<text transform="translate(507.2,405.3) rotate(0.05)" font-size="6.9" text-anchor="middle" fill="#3d9cf2" stroke="#3d9cf2" stroke-width="0.2">Si:HfO<tspan font-size="4.2" dy="1.5">2</tspan></text>
<text transform="translate(534.7,377.8) rotate(0.05)" font-size="9.6" text-anchor="middle" fill="#fff" stroke="#fff" stroke-width="2.0" opacity="0.35" filter="url(#halo)">[37]</text>
<text transform="translate(534.7,377.8) rotate(0.05)" font-size="9.6" text-anchor="middle" fill="#000" stroke="#000" stroke-width="0.3">[37]</text>
<text transform="translate(534.7,396.6) rotate(0.05)" font-size="9.6" text-anchor="middle" fill="#fff" stroke="#fff" stroke-width="2.0" opacity="0.35" filter="url(#halo)">[36]</text>
<text transform="translate(534.7,396.6) rotate(0.05)" font-size="9.6" text-anchor="middle" fill="#000" stroke="#000" stroke-width="0.3">[36]</text>
<text transform="translate(535,405.3) rotate(0.05)" font-size="6.9" text-anchor="middle" fill="#fff" stroke="#fff" stroke-width="2.0" opacity="0.35" filter="url(#halo)">HZO</text>
<text transform="translate(535,405.3) rotate(0.05)" font-size="6.9" text-anchor="middle" fill="#3d9cf2" stroke="#3d9cf2" stroke-width="0.2">HZO</text>
<text transform="translate(536.6,367.5) rotate(0.05)" font-size="6.9" text-anchor="middle" fill="#fff" stroke="#fff" stroke-width="2.0" opacity="0.35" filter="url(#halo)">Pr:HfO<tspan font-size="4.2" dy="1.5">2</tspan></text>
<text transform="translate(536.6,367.5) rotate(0.05)" font-size="6.9" text-anchor="middle" fill="#3d9cf2" stroke="#3d9cf2" stroke-width="0.2">Pr:HfO<tspan font-size="4.2" dy="1.5">2</tspan></text>
<text transform="translate(562.4,377.8) rotate(0.05)" font-size="9.6" text-anchor="middle" fill="#fff" stroke="#fff" stroke-width="2.0" opacity="0.35" filter="url(#halo)">[38]</text>
<text transform="translate(562.4,377.8) rotate(0.05)" font-size="9.6" text-anchor="middle" fill="#000" stroke="#000" stroke-width="0.3">[38]</text>
<text transform="translate(562.4,396.6) rotate(0.05)" font-size="9.6" text-anchor="middle" fill="#fff" stroke="#fff" stroke-width="2.0" opacity="0.35" filter="url(#halo)">[39]</text>
<text transform="translate(562.4,396.6) rotate(0.05)" font-size="9.6" text-anchor="middle" fill="#000" stroke="#000" stroke-width="0.3">[39]</text>
<text transform="translate(565,405.3) rotate(0.05)" font-size="6.9" text-anchor="middle" fill="#fff" stroke="#fff" stroke-width="2.0" opacity="0.35" filter="url(#halo)">Si:HfO<tspan font-size="4.2" dy="1.5">2</tspan></text>
<text transform="translate(565,405.3) rotate(0.05)" font-size="6.9" text-anchor="middle" fill="#3d9cf2" stroke="#3d9cf2" stroke-width="0.2">Si:HfO<tspan font-size="4.2" dy="1.5">2</tspan></text>
<text transform="translate(562.4,367.5) rotate(0.05)" font-size="6.9" text-anchor="middle" fill="#fff" stroke="#fff" stroke-width="2.0" opacity="0.35" filter="url(#halo)">HZO</text>
<text transform="translate(562.4,367.5) rotate(0.05)" font-size="6.9" text-anchor="middle" fill="#3d9cf2" stroke="#3d9cf2" stroke-width="0.2">HZO</text>
<text transform="translate(619,400) rotate(0.05)" font-size="9.6" text-anchor="middle" fill="#fff" stroke="#fff" stroke-width="2.0" opacity="0.35" filter="url(#halo)">[33]</text>
<text transform="translate(619,400) rotate(0.05)" font-size="9.6" text-anchor="middle" fill="#000" stroke="#000" stroke-width="0.3">[33]</text>
<text transform="translate(619.2,375.9) rotate(0.05)" font-size="6.9" text-anchor="middle" fill="#fff" stroke="#fff" stroke-width="2.0" opacity="0.35" filter="url(#halo)">La:HZO</text>
<text transform="translate(619.2,375.9) rotate(0.05)" font-size="6.9" text-anchor="middle" fill="#3d9cf2" stroke="#3d9cf2" stroke-width="0.2">La:HZO</text>
<text transform="translate(450,431.5) rotate(0.05)" font-size="9.6" text-anchor="middle" fill="#fff" stroke="#fff" stroke-width="2.0" opacity="0.35" filter="url(#halo)">[40]</text>
<text transform="translate(450,431.5) rotate(0.05)" font-size="9.6" text-anchor="middle" fill="#000" stroke="#000" stroke-width="0.3">[40]</text>
<text transform="translate(450.5,422.3) rotate(0.05)" font-size="6.9" text-anchor="middle" fill="#fff" stroke="#fff" stroke-width="2.0" opacity="0.35" filter="url(#halo)">HZO</text>
<text transform="translate(450.5,422.3) rotate(0.05)" font-size="6.9" text-anchor="middle" fill="#3d9cf2" stroke="#3d9cf2" stroke-width="0.2">HZO</text>
<rect x="394.3" y="246.5" width="288.5" height="203.9" fill="none" stroke="#0d0d0d" stroke-width="1.3"/>
<line x1="394.3" y1="273.3" x2="398.8" y2="273.3" stroke="#0d0d0d" stroke-width="1"/>
<line x1="394.3" y1="327.9" x2="398.8" y2="327.9" stroke="#0d0d0d" stroke-width="1"/>
<line x1="394.3" y1="382.5" x2="398.8" y2="382.5" stroke="#0d0d0d" stroke-width="1"/>
<line x1="394.3" y1="437.1" x2="398.8" y2="437.1" stroke="#0d0d0d" stroke-width="1"/>
<line x1="403.16" y1="450.4" x2="403.16" y2="448.2" stroke="#0d0d0d" stroke-width="1"/>
<line x1="408.12" y1="450.4" x2="408.12" y2="448.2" stroke="#0d0d0d" stroke-width="1"/>
<line x1="411.63" y1="450.4" x2="411.63" y2="448.2" stroke="#0d0d0d" stroke-width="1"/>
<line x1="414.36" y1="450.4" x2="414.36" y2="448.2" stroke="#0d0d0d" stroke-width="1"/>
<line x1="416.58" y1="450.4" x2="416.58" y2="448.2" stroke="#0d0d0d" stroke-width="1"/>
<line x1="418.46" y1="450.4" x2="418.46" y2="448.2" stroke="#0d0d0d" stroke-width="1"/>
<line x1="420.09" y1="450.4" x2="420.09" y2="448.2" stroke="#0d0d0d" stroke-width="1"/>
<line x1="421.53" y1="450.4" x2="421.53" y2="448.2" stroke="#0d0d0d" stroke-width="1"/>
<line x1="422.82" y1="450.4" x2="422.82" y2="446.6" stroke="#0d0d0d" stroke-width="1.1"/>
<line x1="431.28" y1="450.4" x2="431.28" y2="448.2" stroke="#0d0d0d" stroke-width="1"/>
<line x1="436.24" y1="450.4" x2="436.24" y2="448.2" stroke="#0d0d0d" stroke-width="1"/>
<line x1="439.75" y1="450.4" x2="439.75" y2="448.2" stroke="#0d0d0d" stroke-width="1"/>
<line x1="442.48" y1="450.4" x2="442.48" y2="448.2" stroke="#0d0d0d" stroke-width="1"/>
<line x1="444.7" y1="450.4" x2="444.7" y2="448.2" stroke="#0d0d0d" stroke-width="1"/>
<line x1="446.58" y1="450.4" x2="446.58" y2="448.2" stroke="#0d0d0d" stroke-width="1"/>
<line x1="448.21" y1="450.4" x2="448.21" y2="448.2" stroke="#0d0d0d" stroke-width="1"/>
<line x1="449.65" y1="450.4" x2="449.65" y2="448.2" stroke="#0d0d0d" stroke-width="1"/>
<line x1="450.94" y1="450.4" x2="450.94" y2="446.6" stroke="#0d0d0d" stroke-width="1.1"/>
<line x1="459.4" y1="450.4" x2="459.4" y2="448.2" stroke="#0d0d0d" stroke-width="1"/>
<line x1="464.36" y1="450.4" x2="464.36" y2="448.2" stroke="#0d0d0d" stroke-width="1"/>
<line x1="467.87" y1="450.4" x2="467.87" y2="448.2" stroke="#0d0d0d" stroke-width="1"/>
<line x1="470.6" y1="450.4" x2="470.6" y2="448.2" stroke="#0d0d0d" stroke-width="1"/>
<line x1="472.82" y1="450.4" x2="472.82" y2="448.2" stroke="#0d0d0d" stroke-width="1"/>
<line x1="474.7" y1="450.4" x2="474.7" y2="448.2" stroke="#0d0d0d" stroke-width="1"/>
<line x1="476.33" y1="450.4" x2="476.33" y2="448.2" stroke="#0d0d0d" stroke-width="1"/>
<line x1="477.77" y1="450.4" x2="477.77" y2="448.2" stroke="#0d0d0d" stroke-width="1"/>
<line x1="479.06" y1="450.4" x2="479.06" y2="446.6" stroke="#0d0d0d" stroke-width="1.1"/>
<line x1="487.52" y1="450.4" x2="487.52" y2="448.2" stroke="#0d0d0d" stroke-width="1"/>
<line x1="492.48" y1="450.4" x2="492.48" y2="448.2" stroke="#0d0d0d" stroke-width="1"/>
<line x1="495.99" y1="450.4" x2="495.99" y2="448.2" stroke="#0d0d0d" stroke-width="1"/>
<line x1="498.72" y1="450.4" x2="498.72" y2="448.2" stroke="#0d0d0d" stroke-width="1"/>
<line x1="500.94" y1="450.4" x2="500.94" y2="448.2" stroke="#0d0d0d" stroke-width="1"/>
<line x1="502.82" y1="450.4" x2="502.82" y2="448.2" stroke="#0d0d0d" stroke-width="1"/>
<line x1="504.45" y1="450.4" x2="504.45" y2="448.2" stroke="#0d0d0d" stroke-width="1"/>
<line x1="505.89" y1="450.4" x2="505.89" y2="448.2" stroke="#0d0d0d" stroke-width="1"/>
<line x1="507.18" y1="450.4" x2="507.18" y2="446.6" stroke="#0d0d0d" stroke-width="1.1"/>
<line x1="515.64" y1="450.4" x2="515.64" y2="448.2" stroke="#0d0d0d" stroke-width="1"/>
<line x1="520.6" y1="450.4" x2="520.6" y2="448.2" stroke="#0d0d0d" stroke-width="1"/>
<line x1="524.11" y1="450.4" x2="524.11" y2="448.2" stroke="#0d0d0d" stroke-width="1"/>
<line x1="526.84" y1="450.4" x2="526.84" y2="448.2" stroke="#0d0d0d" stroke-width="1"/>
<line x1="529.06" y1="450.4" x2="529.06" y2="448.2" stroke="#0d0d0d" stroke-width="1"/>
<line x1="530.94" y1="450.4" x2="530.94" y2="448.2" stroke="#0d0d0d" stroke-width="1"/>
<line x1="532.57" y1="450.4" x2="532.57" y2="448.2" stroke="#0d0d0d" stroke-width="1"/>
<line x1="534.01" y1="450.4" x2="534.01" y2="448.2" stroke="#0d0d0d" stroke-width="1"/>
<line x1="535.3" y1="450.4" x2="535.3" y2="446.6" stroke="#0d0d0d" stroke-width="1.1"/>
<line x1="543.76" y1="450.4" x2="543.76" y2="448.2" stroke="#0d0d0d" stroke-width="1"/>
<line x1="548.72" y1="450.4" x2="548.72" y2="448.2" stroke="#0d0d0d" stroke-width="1"/>
<line x1="552.23" y1="450.4" x2="552.23" y2="448.2" stroke="#0d0d0d" stroke-width="1"/>
<line x1="554.96" y1="450.4" x2="554.96" y2="448.2" stroke="#0d0d0d" stroke-width="1"/>
<line x1="557.18" y1="450.4" x2="557.18" y2="448.2" stroke="#0d0d0d" stroke-width="1"/>
<line x1="559.06" y1="450.4" x2="559.06" y2="448.2" stroke="#0d0d0d" stroke-width="1"/>
<line x1="560.69" y1="450.4" x2="560.69" y2="448.2" stroke="#0d0d0d" stroke-width="1"/>
<line x1="562.13" y1="450.4" x2="562.13" y2="448.2" stroke="#0d0d0d" stroke-width="1"/>
<line x1="563.42" y1="450.4" x2="563.42" y2="446.6" stroke="#0d0d0d" stroke-width="1.1"/>
<line x1="571.88" y1="450.4" x2="571.88" y2="448.2" stroke="#0d0d0d" stroke-width="1"/>
<line x1="576.84" y1="450.4" x2="576.84" y2="448.2" stroke="#0d0d0d" stroke-width="1"/>
<line x1="580.35" y1="450.4" x2="580.35" y2="448.2" stroke="#0d0d0d" stroke-width="1"/>
<line x1="583.08" y1="450.4" x2="583.08" y2="448.2" stroke="#0d0d0d" stroke-width="1"/>
<line x1="585.3" y1="450.4" x2="585.3" y2="448.2" stroke="#0d0d0d" stroke-width="1"/>
<line x1="587.18" y1="450.4" x2="587.18" y2="448.2" stroke="#0d0d0d" stroke-width="1"/>
<line x1="588.81" y1="450.4" x2="588.81" y2="448.2" stroke="#0d0d0d" stroke-width="1"/>
<line x1="590.25" y1="450.4" x2="590.25" y2="448.2" stroke="#0d0d0d" stroke-width="1"/>
<line x1="591.54" y1="450.4" x2="591.54" y2="446.6" stroke="#0d0d0d" stroke-width="1.1"/>
<line x1="600" y1="450.4" x2="600" y2="448.2" stroke="#0d0d0d" stroke-width="1"/>
<line x1="604.96" y1="450.4" x2="604.96" y2="448.2" stroke="#0d0d0d" stroke-width="1"/>
<line x1="608.47" y1="450.4" x2="608.47" y2="448.2" stroke="#0d0d0d" stroke-width="1"/>
<line x1="611.2" y1="450.4" x2="611.2" y2="448.2" stroke="#0d0d0d" stroke-width="1"/>
<line x1="613.42" y1="450.4" x2="613.42" y2="448.2" stroke="#0d0d0d" stroke-width="1"/>
<line x1="615.3" y1="450.4" x2="615.3" y2="448.2" stroke="#0d0d0d" stroke-width="1"/>
<line x1="616.93" y1="450.4" x2="616.93" y2="448.2" stroke="#0d0d0d" stroke-width="1"/>
<line x1="618.37" y1="450.4" x2="618.37" y2="448.2" stroke="#0d0d0d" stroke-width="1"/>
<line x1="619.66" y1="450.4" x2="619.66" y2="446.6" stroke="#0d0d0d" stroke-width="1.1"/>
<line x1="628.12" y1="450.4" x2="628.12" y2="448.2" stroke="#0d0d0d" stroke-width="1"/>
<line x1="633.08" y1="450.4" x2="633.08" y2="448.2" stroke="#0d0d0d" stroke-width="1"/>
<line x1="636.59" y1="450.4" x2="636.59" y2="448.2" stroke="#0d0d0d" stroke-width="1"/>
<line x1="639.32" y1="450.4" x2="639.32" y2="448.2" stroke="#0d0d0d" stroke-width="1"/>
<line x1="641.54" y1="450.4" x2="641.54" y2="448.2" stroke="#0d0d0d" stroke-width="1"/>
<line x1="643.42" y1="450.4" x2="643.42" y2="448.2" stroke="#0d0d0d" stroke-width="1"/>
<line x1="645.05" y1="450.4" x2="645.05" y2="448.2" stroke="#0d0d0d" stroke-width="1"/>
<line x1="646.49" y1="450.4" x2="646.49" y2="448.2" stroke="#0d0d0d" stroke-width="1"/>
<line x1="647.78" y1="450.4" x2="647.78" y2="446.6" stroke="#0d0d0d" stroke-width="1.1"/>
<line x1="656.24" y1="450.4" x2="656.24" y2="448.2" stroke="#0d0d0d" stroke-width="1"/>
<line x1="661.2" y1="450.4" x2="661.2" y2="448.2" stroke="#0d0d0d" stroke-width="1"/>
<line x1="664.71" y1="450.4" x2="664.71" y2="448.2" stroke="#0d0d0d" stroke-width="1"/>
<line x1="667.44" y1="450.4" x2="667.44" y2="448.2" stroke="#0d0d0d" stroke-width="1"/>
<line x1="669.66" y1="450.4" x2="669.66" y2="448.2" stroke="#0d0d0d" stroke-width="1"/>
<line x1="671.54" y1="450.4" x2="671.54" y2="448.2" stroke="#0d0d0d" stroke-width="1"/>
<line x1="673.17" y1="450.4" x2="673.17" y2="448.2" stroke="#0d0d0d" stroke-width="1"/>
<line x1="674.61" y1="450.4" x2="674.61" y2="448.2" stroke="#0d0d0d" stroke-width="1"/>
<line x1="675.9" y1="450.4" x2="675.9" y2="446.6" stroke="#0d0d0d" stroke-width="1.1"/>
</g>
</svg></body></html>
